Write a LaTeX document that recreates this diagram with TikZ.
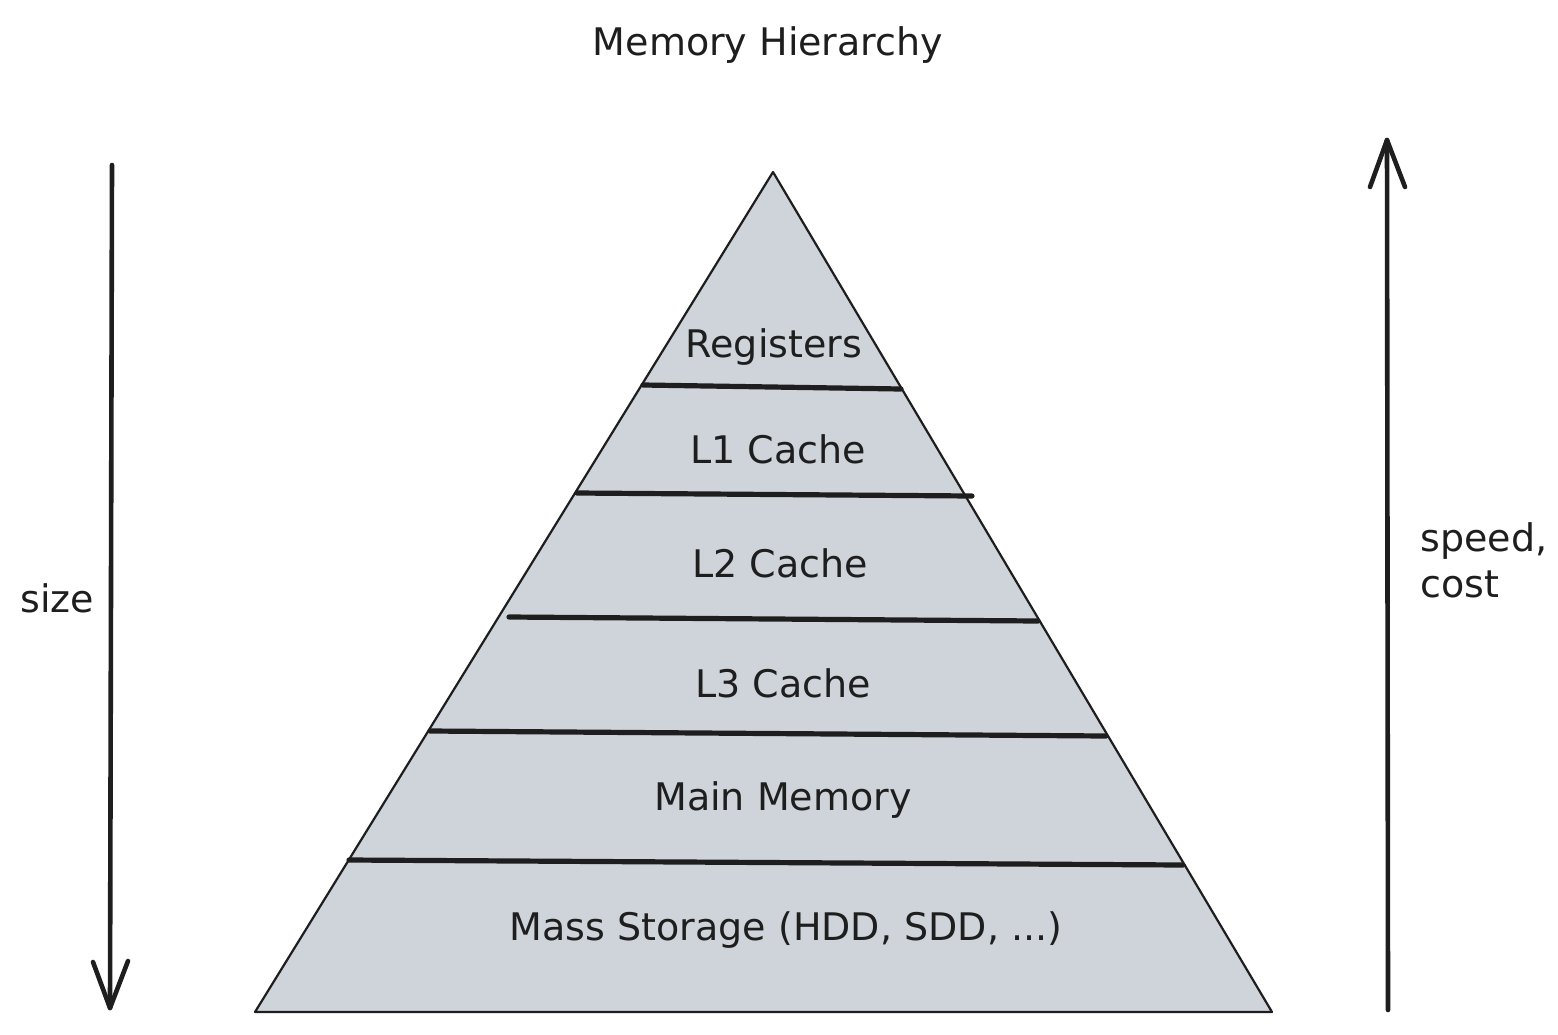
\documentclass[tikz,border=0pt]{standalone}
\usepackage{fontspec}
\setmainfont{DejaVu Sans}
\begin{document}
\begin{tikzpicture}[x=0.5pt,y=-0.5pt,
  sep/.style={draw=inkc,line width=2.6pt,line cap=round},
  axisline/.style={draw=inkc,line width=2.3pt,line cap=round,line join=round},
  lbl/.style={font=\fontsize{19}{23}\selectfont,text=inkc,inner sep=0pt}]
\definecolor{inkc}{HTML}{1E1E1E}
\definecolor{fillc}{HTML}{CED4DA}
\useasboundingbox (0,0) rectangle (1558,1034);
% pyramid
\coordinate (apex) at (773,172);
\coordinate (bl) at (255,1012);
\coordinate (br) at (1272,1012);
\filldraw[fill=fillc,draw=inkc,line width=1.1pt,line join=round] (apex) -- (bl) -- (br) -- cycle;
% separators
\coordinate (s1a) at (643,385); \coordinate (s1b) at (901,389);
\coordinate (s2a) at (577,493); \coordinate (s2b) at (972,496);
\coordinate (s3a) at (509,617); \coordinate (s3b) at (1038,621);
\coordinate (s4a) at (430,731); \coordinate (s4b) at (1106,736);
\coordinate (s5a) at (349,860); \coordinate (s5b) at (1183,865);
\draw[sep] (s1a) -- (s1b);
\draw[sep] (s2a) -- (s2b);
\draw[sep] (s3a) -- (s3b);
\draw[sep] (s4a) -- (s4b);
\draw[sep] (s5a) -- (s5b);
% labels
\node[lbl] (title) at (768,45) {Memory Hierarchy};
\node[lbl] (reg) at (774,347) {Registers};
\node[lbl] (l1) at (778,449) {L1 Cache};
\node[lbl] (l2) at (780,563) {L2 Cache};
\node[lbl] (l3) at (783,683) {L3 Cache};
\node[lbl] (mm) at (783,800) {Main Memory};
\node[lbl] (ms) at (786,930) {Mass Storage (HDD, SDD, ...)};
\node[lbl,anchor=west] (size) at (20,598) {size};
\node[lbl,anchor=west,align=left] (speed) at (1420,560) {speed,\\cost};
% left arrow (size, downward)
\coordinate (la0) at (112,165);
\coordinate (la1) at (110,1008);
\coordinate (law1) at (93,962);
\coordinate (law2) at (128,961);
\draw[axisline] (la0) -- (la1);
\draw[axisline] (law1) -- (la1) -- (law2);
% right arrow (speed, upward)
\coordinate (ra0) at (1388,1010);
\coordinate (ra1) at (1387,140);
\coordinate (raw1) at (1370,187);
\coordinate (raw2) at (1405,187);
\draw[axisline] (ra0) -- (ra1);
\draw[axisline] (raw1) -- (ra1) -- (raw2);
\end{tikzpicture}
\end{document}
